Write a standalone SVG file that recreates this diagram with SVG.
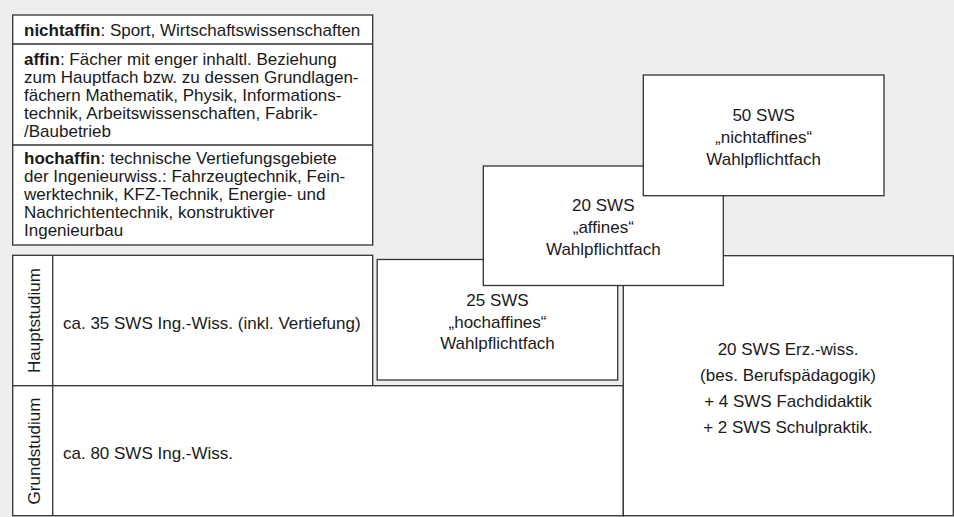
<svg xmlns="http://www.w3.org/2000/svg" width="954" height="517" viewBox="0 0 954 517">
<style>
.box{fill:#fff;stroke:#333;stroke-width:1.3}
.ln{fill:none;stroke:#333;stroke-width:1.3}
text{font-family:"Liberation Sans",Arial,sans-serif;font-size:17px;fill:#1a1a1a}
.c{text-anchor:middle}
.b{font-weight:bold}
</style>
<rect x="0" y="0" width="954" height="517" fill="#eeeeee"/>
<g id="legend">
<rect class="box" x="12.7" y="15" width="360" height="230"/>
<line class="ln" x1="12.7" y1="44" x2="372.7" y2="44"/>
<line class="ln" x1="12.7" y1="145" x2="372.7" y2="145"/>
<text x="24" y="36"><tspan class="b">nichtaffin</tspan>: Sport, Wirtschaftswissenschaften</text>
<text x="24" y="65"><tspan class="b">affin</tspan>: Fächer mit enger inhaltl. Beziehung</text>
<text x="24" y="83">zum Hauptfach bzw. zu dessen Grundlagen-</text>
<text x="24" y="101">fächern Mathematik, Physik, Informations-</text>
<text x="24" y="119">technik, Arbeitswissenschaften, Fabrik-</text>
<text x="24" y="137">/Baubetrieb</text>
<text x="24" y="164"><tspan class="b">hochaffin</tspan>: technische Vertiefungsgebiete</text>
<text x="24" y="182">der Ingenieurwiss.: Fahrzeugtechnik, Fein-</text>
<text x="24" y="200">werktechnik, KFZ-Technik, Energie- und</text>
<text x="24" y="218">Nachrichtentechnik, konstruktiver</text>
<text x="24" y="236">Ingenieurbau</text>
</g>
<g id="hauptstudium">
<rect class="box" x="12.7" y="255.3" width="360" height="130.4"/>
<line class="ln" x1="52.7" y1="255.3" x2="52.7" y2="385.7"/>
<text class="c" transform="translate(39.5,320.5) rotate(-90)">Hauptstudium</text>
<text x="63" y="329">ca. 35 SWS Ing.-Wiss. (inkl. Vertiefung)</text>
</g>
<g id="grundstudium">
<rect class="box" x="12.7" y="385.7" width="610.6" height="130"/>
<line class="ln" x1="52.7" y1="385.7" x2="52.7" y2="515.7"/>
<text class="c" transform="translate(39.5,451) rotate(-90)">Grundstudium</text>
<text x="63" y="459">ca. 80 SWS Ing.-Wiss.</text>
</g>
<g id="hochaffin">
<rect class="box" x="377.2" y="259.5" width="240.5" height="120.5"/>
<text class="c" x="497.5" y="306">25 SWS</text>
<text class="c" x="497.5" y="328">„hochaffines“</text>
<text class="c" x="497.5" y="349">Wahlpflichtfach</text>
</g>
<g id="erz">
<rect class="box" x="623.3" y="255.7" width="330" height="260"/>
<text class="c" x="788" y="355">20 SWS Erz.-wiss.</text>
<text class="c" x="788" y="381">(bes. Berufspädagogik)</text>
<text class="c" x="788" y="407">+ 4 SWS Fachdidaktik</text>
<text class="c" x="788" y="433">+ 2 SWS Schulpraktik.</text>
</g>
<g id="affin">
<rect class="box" x="483.3" y="166" width="240" height="119.5"/>
<text class="c" x="603.3" y="211">20 SWS</text>
<text class="c" x="603.3" y="233">„affines“</text>
<text class="c" x="603.3" y="255">Wahlpflichtfach</text>
</g>
<g id="nichtaffin">
<rect class="box" x="643.3" y="75" width="240.7" height="120.7"/>
<text class="c" x="763.6" y="121">50 SWS</text>
<text class="c" x="763.6" y="143">„nichtaffines“</text>
<text class="c" x="763.6" y="165">Wahlpflichtfach</text>
</g>
<g id="connectors"/>
</svg>
